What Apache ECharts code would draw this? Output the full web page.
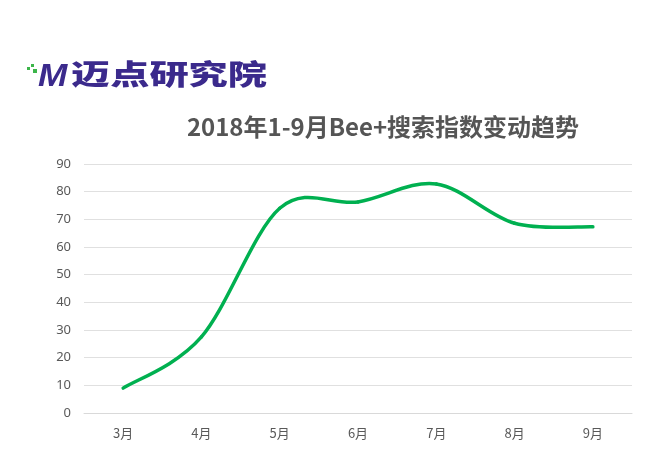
<!DOCTYPE html>
<html><head><meta charset="utf-8">
<script src="https://cdn.jsdelivr.net/npm/echarts@6/dist/echarts.min.js"></script>
<style>html,body{margin:0;padding:0;background:#fff}#c{width:650px;height:454px}</style>
</head><body><div id="c"></div>
<script>
const categories = ['3月','4月','5月','6月','7月','8月','9月'];
const searchIndex = [9.0, 27.5, 74.0, 76.3, 82.8, 68.6, 67.3];
const yTicks = [0, 10, 20, 30, 40, 50, 60, 70, 80, 90];
const titleText = '2018年1-9月Bee+搜索指数变动趋势';
const logoText = '迈点研究院';

const chart = echarts.init(document.getElementById('c'));

// Excel-like Catmull-Rom smoothing: each segment drawn from data via api.coord
function renderSegment(params, api) {
  const i = params.dataIndex;
  const n = searchIndex.length;
  if (i >= n - 1) return null;
  const pt = j => api.coord([Math.max(0, Math.min(n - 1, j)), searchIndex[Math.max(0, Math.min(n - 1, j))]]);
  const p0 = pt(i - 1), p1 = pt(i), p2 = pt(i + 1), p3 = pt(i + 2);
  const k = 1 / 6;
  return {
    type: 'bezierCurve',
    shape: {
      x1: p1[0], y1: p1[1], x2: p2[0], y2: p2[1],
      cpx1: p1[0] + (p2[0] - p0[0]) * k, cpy1: p1[1] + (p2[1] - p0[1]) * k,
      cpx2: p2[0] - (p3[0] - p1[0]) * k, cpy2: p2[1] - (p3[1] - p1[1]) * k
    },
    style: {stroke: '#00b050', lineWidth: 3.5, fill: null, lineCap: 'round'}
  };
}

chart.setOption({
  animation: false,
  backgroundColor: '#fff',
  title: {
    text: titleText, left: 378, top: 110, textAlign: 'center',
    textStyle: {fontFamily: 'Noto Sans CJK SC', fontSize: 24, fontWeight: 'bold', color: '#555555'}
  },
  graphic: [
    {type: 'rect', shape: {x: 27, y: 67, width: 3, height: 3}, style: {fill: '#3cb54a'}},
    {type: 'rect', shape: {x: 31, y: 64, width: 3, height: 3}, style: {fill: '#3cb54a'}},
    {type: 'rect', shape: {x: 33, y: 69, width: 4, height: 4}, style: {fill: '#3cb54a'}},
    {type: 'text', x: 38, y: 61, scaleX: 1.1,
     style: {text: 'M', fill: '#3b2a8c', font: 'italic 900 32px "Liberation Sans"', verticalAlign: 'top'}},
    {type: 'text', x: 71, y: 60, scaleX: 1.4,
     style: {text: logoText, fill: '#3b2a8c', font: '900 28px "Noto Sans CJK SC"', verticalAlign: 'top'}}
  ],
  grid: {left: 84, right: 18, top: 164, bottom: 41},
  xAxis: {
    type: 'category', data: categories, boundaryGap: true,
    axisLine: {show: true, lineStyle: {color: '#d9d9d9'}},
    axisTick: {show: false},
    axisLabel: {color: '#595959', fontSize: 13, margin: 14, fontFamily: 'Noto Sans CJK SC'}
  },
  yAxis: {
    type: 'value', min: yTicks[0], max: yTicks[yTicks.length - 1], interval: 10,
    axisLine: {show: false}, axisTick: {show: false},
    axisLabel: {color: '#595959', fontSize: 13, margin: 13, fontFamily: 'Noto Sans'},
    splitLine: {lineStyle: {color: '#e0e0e0', width: 1}}
  },
  series: [{
    type: 'custom',
    data: searchIndex.map((v, i) => [i, v]),
    encode: {x: 0, y: 1},
    renderItem: renderSegment
  }]
});
</script></body></html>
